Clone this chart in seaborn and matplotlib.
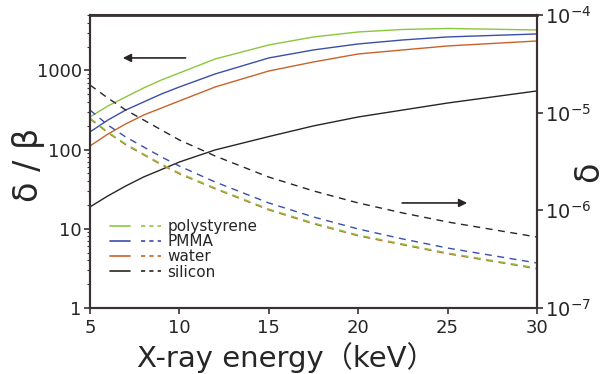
import numpy as np
import pandas as pd
import matplotlib
matplotlib.use("Agg")
import matplotlib.pyplot as plt
import seaborn as sns
from matplotlib.lines import Line2D
from matplotlib.legend_handler import HandlerTuple

# ---- data ----
energy = [5, 6, 7, 8, 9, 10, 12, 15, 17.5, 20, 22.5, 25, 30]  # keV

# delta/beta (left axis, solid)
db_polystyrene = [258, 355, 462, 600, 757, 927, 1393, 2093, 2642, 3054, 3283, 3381, 3236]
db_pmma = [167, 236, 316, 399, 504, 617, 901, 1435, 1811, 2155, 2421, 2642, 2882]
db_water = [111, 157, 211, 273, 335, 411, 617, 982, 1277, 1611, 1811, 2033, 2350]
db_silicon = [18.9, 26, 34.7, 45.1, 56, 69.7, 99, 146, 199, 258, 316, 387, 550]

# delta (right axis, dashed)
d_polystyrene = [8.82e-6, 6.34e-6, 4.78e-6, 3.77e-6, 2.98e-6, 2.41e-6, 1.69e-6, 1.03e-6, 7.42e-7, 5.59e-7, 4.52e-7, 3.66e-7, 2.57e-7]
d_pmma = [1.064e-5, 7.47e-6, 5.63e-6, 4.45e-6, 3.52e-6, 2.84e-6, 1.95e-6, 1.19e-6, 8.55e-7, 6.44e-7, 5.09e-7, 4.11e-7, 2.89e-7]
d_water = [8.65e-6, 6.22e-6, 4.69e-6, 3.70e-6, 2.92e-6, 2.36e-6, 1.66e-6, 1.01e-6, 7.27e-7, 5.48e-7, 4.43e-7, 3.59e-7, 2.52e-7]
d_silicon = [1.92e-5, 1.41e-5, 1.064e-5, 8.41e-6, 6.64e-6, 5.25e-6, 3.60e-6, 2.19e-6, 1.58e-6, 1.19e-6, 9.39e-7, 7.6e-7, 5.33e-7]

materials = ["polystyrene", "PMMA", "water", "silicon"]
colors = {"polystyrene": "#8cc63e", "PMMA": "#3b4fa6", "water": "#c8622a", "silicon": "#2a2424"}

x_ticks = [5, 10, 15, 20, 25, 30]
left_ticks = [1, 10, 100, 1000]
left_ticklabels = ["1", "10", "100", "1000"]
right_ticks = [1e-7, 1e-6, 1e-5, 1e-4]
right_ticklabels = [r"$10^{-7}$", r"$10^{-6}$", r"$10^{-5}$", r"$10^{-4}$"]

db = {"polystyrene": db_polystyrene, "PMMA": db_pmma, "water": db_water, "silicon": db_silicon}
dd = {"polystyrene": d_polystyrene, "PMMA": d_pmma, "water": d_water, "silicon": d_silicon}

rows_db = []
rows_d = []
for m in materials:
    for e, v in zip(energy, db[m]):
        rows_db.append({"energy": e, "value": v, "material": m})
    for e, v in zip(energy, dd[m]):
        rows_d.append({"energy": e, "value": v, "material": m})
df_db = pd.DataFrame(rows_db)
df_d = pd.DataFrame(rows_d)

sns.set_theme(style="ticks")
plt.rcParams["font.family"] = ["DejaVu Sans", "Noto Sans CJK JP"]
spine_col = "#3a3232"

fig = plt.figure(figsize=(6.05, 3.74), dpi=100)
ax = fig.add_axes([90/605, 1-308/374, (537-90)/605, (308-15)/374])
ax2 = ax.twinx()

draw_order = ["silicon", "water", "PMMA", "polystyrene"]
for m in draw_order:
    sub = df_db[df_db.material == m]
    sns.lineplot(data=sub, x="energy", y="value", ax=ax, color=colors[m], lw=1.0,
                 legend=False, estimator=None, sort=True)
    sub2 = df_d[df_d.material == m]
    sns.lineplot(data=sub2, x="energy", y="value", ax=ax2, color=colors[m], lw=1.0,
                 linestyle=(0, (5, 4)), legend=False, estimator=None, sort=True)

ax.set_yscale("log")
ax2.set_yscale("log")
ax.set_xlim(5, 30)
ax.set_ylim(1, 5000)
ax2.set_ylim(1e-7, 1e-4)

ax.set_xticks(x_ticks)
ax.set_xticklabels([str(t) for t in x_ticks], fontsize=13)
ax.set_yticks(left_ticks)
ax.set_yticklabels(left_ticklabels, fontsize=13)
ax2.set_yticks(right_ticks)
ax2.set_yticklabels(right_ticklabels, fontsize=14)
ax2.yaxis.set_minor_locator(matplotlib.ticker.NullLocator())

ax.set_xlabel("X-ray energy（keV）", fontsize=21, family=["DejaVu Sans", "Noto Sans CJK JP"])
ax.xaxis.set_label_coords(0.44, -0.115)
ax.set_ylabel("δ / β", fontsize=24)
ax.yaxis.set_label_coords(-0.10, 0.488)
ax2.set_ylabel("δ", fontsize=24)
ax2.yaxis.set_label_coords(1.078, 0.464)

for a in (ax, ax2):
    for s in a.spines.values():
        s.set_color(spine_col)
        s.set_linewidth(1.5)
ax.spines["top"].set_linewidth(2.0)
ax.tick_params(axis="both", which="major", direction="out", length=4, width=1.2, color=spine_col, pad=2)
ax.tick_params(axis="x", which="major", pad=4)
ax.tick_params(axis="y", which="minor", direction="out", length=2.5, width=0.8, color=spine_col)
ax2.tick_params(axis="y", which="major", direction="out", length=4, width=1.2, color=spine_col, pad=2)

# arrows
ax.annotate("", xy=(6.68, 1435), xytext=(10.5, 1435),
            arrowprops=dict(arrowstyle="-|>", color="#2a2424", lw=1.2, mutation_scale=12))
ax2.annotate("", xy=(26.25, 1.19e-6), xytext=(22.3, 1.19e-6),
             arrowprops=dict(arrowstyle="-|>", color="#2a2424", lw=1.2, mutation_scale=12))

# legend
handles = []
for m in materials:
    h1 = Line2D([], [], color=colors[m], lw=1.2)
    h2 = Line2D([], [], color=colors[m], lw=1.2, linestyle=(0, (2.5, 2.5)))
    handles.append((h1, h2))
leg = ax.legend(handles, materials, handler_map={tuple: HandlerTuple(ndivide=None, pad=0.7)},
                loc="upper left", bbox_to_anchor=(0.03, 0.325), frameon=False,
                fontsize=11, handlelength=3.4, handletextpad=0.4, labelspacing=0.02,
                borderaxespad=0)

fig.savefig("out.png", dpi=100)
